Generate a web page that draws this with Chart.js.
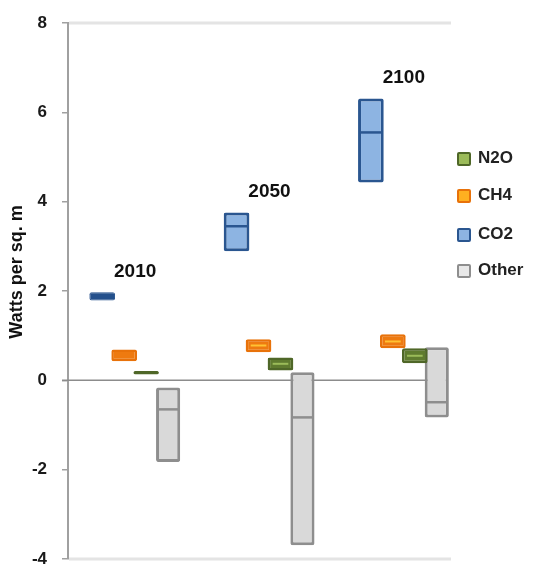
<!DOCTYPE html>
<html>
<head>
<meta charset="utf-8">
<script src="https://cdn.jsdelivr.net/npm/chart.js@4.4.0/dist/chart.umd.min.js"></script>
<style>
  html, body { margin: 0; padding: 0; background: #fff; }
  #wrap { position: relative; width: 533px; height: 567px; overflow: hidden; }
  #legend { position: absolute; left: 457px; top: 0; font-family: "Liberation Sans", Arial, sans-serif; font-weight: bold; font-size: 17px; color: #222; }
  .item { position: absolute; left: 0; white-space: nowrap; height: 18px; line-height: 18px; }
  .sw { position: absolute; left: 0; top: 2px; width: 10px; height: 10px; border: 2px solid; border-radius: 2px; }
  .lbl { position: absolute; left: 21px; top: -1px; }
</style>
</head>
<body>
<div id="wrap">
  <canvas id="c" width="533" height="567"></canvas>
  <div id="legend"></div>
</div>
<script>
// ---- data ----
const categories = ['2010', '2050', '2100'];
const yTicks = [-4, -2, 0, 2, 4, 6, 8];
const yTitle = 'Watts per sq. m';
const co2Low  = [1.79, 2.89, 4.43];
const co2High = [1.97, 3.76, 6.31];
const co2Mid  = [1.88, 3.45, 5.55];
const ch4Low  = [0.43, 0.63, 0.72];
const ch4High = [0.69, 0.92, 1.03];
const ch4Mid  = [0.60, 0.78, 0.87];
const n2oLow  = [0.13, 0.22, 0.38];
const n2oHigh = [0.21, 0.51, 0.72];
const n2oMid  = [0.17, 0.37, 0.55];
const otherLow  = [-1.83, -3.69, -0.83];
const otherHigh = [-0.16, 0.18, 0.74];
const otherMid  = [-0.65, -0.83, -0.49];
const legendOrder = ['N2O', 'CH4', 'CO2', 'Other'];

const ranges = (lo, hi) => lo.map((v, i) => [v, hi[i]]);

const styles = {
  CO2:   { fill: ['#24508C', '#8DB4E2', '#8DB4E2'], border: ['#24508C', '#2A5690', '#2A5690'], mid: '#2A5690', sw: '#8DB4E2', bw: [1, 3, 3] },
  CH4:   { fill: '#EE7A10', border: '#E8720A', mid: '#FFC233', sw: '#FFB020', bw: 2.5 },
  N2O:   { fill: '#5F7B2F', border: '#4F6728', mid: '#9BBB59', sw: '#9BBB59', bw: 2.5 },
  Other: { fill: '#D9D9D9', border: '#8E8E8E', mid: '#8E8E8E', sw: '#E8E8E8', bw: 3 }
};

const series = [
  { name: 'CO2', lo: co2Low, hi: co2High, mid: co2Mid },
  { name: 'CH4', lo: ch4Low, hi: ch4High, mid: ch4Mid },
  { name: 'N2O', lo: n2oLow, hi: n2oHigh, mid: n2oMid },
  { name: 'Other', lo: otherLow, hi: otherHigh, mid: otherMid }
];

const datasets = series.map(s => ({
  label: s.name,
  data: ranges(s.lo, s.hi),
  backgroundColor: styles[s.name].fill,
  borderColor: styles[s.name].border,
  borderWidth: styles[s.name].bw,
  borderSkipped: false,
  borderRadius: 2,
  categoryPercentage: 0.654,
  barPercentage: s.name === 'Other' ? 1.1 : 1.17
}));

const FONT = '"Liberation Sans", Arial, sans-serif';

const decor = {
  id: 'decor',
  beforeDatasetsDraw(chart) {
    const { ctx, chartArea: a, scales: { y } } = chart;
    const right = a.right - 20;
    ctx.save();
    ctx.strokeStyle = '#E4E4E4';
    ctx.lineWidth = 3;
    [8, -4].forEach(v => {
      const py = y.getPixelForValue(v);
      ctx.beginPath(); ctx.moveTo(a.left + 1, py); ctx.lineTo(right, py); ctx.stroke();
    });
    ctx.strokeStyle = '#8C8C8C';
    ctx.lineWidth = 1.5;
    const p0 = y.getPixelForValue(0);
    ctx.beginPath(); ctx.moveTo(a.left - 6, p0); ctx.lineTo(right - 3, p0); ctx.stroke();
    // axis title
    ctx.fillStyle = '#111';
    ctx.font = 'bold 18px ' + FONT;
    ctx.textAlign = 'center';
    ctx.textBaseline = 'middle';
    ctx.translate(17, (a.top + a.bottom) / 2 - 19);
    ctx.rotate(-Math.PI / 2);
    ctx.fillText(yTitle, 0, 0);
    ctx.restore();
  },
  afterDatasetsDraw(chart) {
    const { ctx, scales: { x, y } } = chart;
    ctx.save();
    series.forEach((s, di) => {
      const meta = chart.getDatasetMeta(di);
      meta.data.forEach((bar, i) => {
        const h = Math.abs(y.getPixelForValue(s.hi[i]) - y.getPixelForValue(s.lo[i]));
        if (h < 12) return;
        const py = y.getPixelForValue(s.mid[i]);
        ctx.strokeStyle = styles[s.name].mid;
        ctx.lineWidth = s.name === 'CH4' || s.name === 'N2O' ? 2 : 2.5;
        const inset = s.name === 'CH4' || s.name === 'N2O' ? 5 : 1;
        ctx.beginPath();
        ctx.moveTo(bar.x - bar.width / 2 + inset, py);
        ctx.lineTo(bar.x + bar.width / 2 - inset, py);
        ctx.stroke();
      });
    });
    ctx.fillStyle = '#111';
    ctx.font = 'bold 19px ' + FONT;
    ctx.textAlign = 'center';
    ctx.textBaseline = 'middle';
    categories.forEach((c, i) => {
      const px = x.getPixelForValue(i);
      const py = y.getPixelForValue(co2High[i]) - 21;
      ctx.fillText(c, px, py);
    });
    ctx.restore();
  }
};

new Chart(document.getElementById('c'), {
  type: 'bar',
  data: { labels: categories, datasets },
  options: {
    responsive: false,
    devicePixelRatio: 1,
    animation: false,
    layout: { padding: { left: 0, right: 62, top: 23, bottom: 8 } },
    plugins: { legend: { display: false }, tooltip: { enabled: false } },
    scales: {
      x: { display: false, offset: true, grid: { display: false } },
      y: {
        min: -4, max: 8,
        afterFit(scale) { scale.width = 68; scale.paddingTop = 0; scale.paddingBottom = 0; },
        afterBuildTicks(scale) { scale.ticks = yTicks.map(v => ({ value: v })); },
        grid: { drawOnChartArea: false, drawTicks: true, tickLength: 6, color: '#A0A0A0', lineWidth: 1.5 },
        border: { display: true, color: '#A0A0A0', width: 2 },
        ticks: {
          padding: 15,
          color: '#1a1a1a',
          font: { family: FONT, size: 17, weight: 'bold' }
        },
        title: { display: false }
      }
    }
  },
  plugins: [decor]
});

// legend (HTML text)
const legendTops = { N2O: 150, CH4: 187, CO2: 226, Other: 262 };
const legendBorders = { N2O: '#4F6728', CH4: '#E8720A', CO2: '#2A5690', Other: '#8E8E8E' };
const lg = document.getElementById('legend');
legendOrder.forEach(name => {
  const it = document.createElement('div');
  it.className = 'item';
  it.style.top = legendTops[name] + 'px';
  const sw = document.createElement('span');
  sw.className = 'sw';
  sw.style.background = styles[name].sw;
  sw.style.borderColor = legendBorders[name];
  const lb = document.createElement('span');
  lb.className = 'lbl';
  lb.textContent = name;
  it.appendChild(sw); it.appendChild(lb);
  lg.appendChild(it);
});
</script>
</body>
</html>
